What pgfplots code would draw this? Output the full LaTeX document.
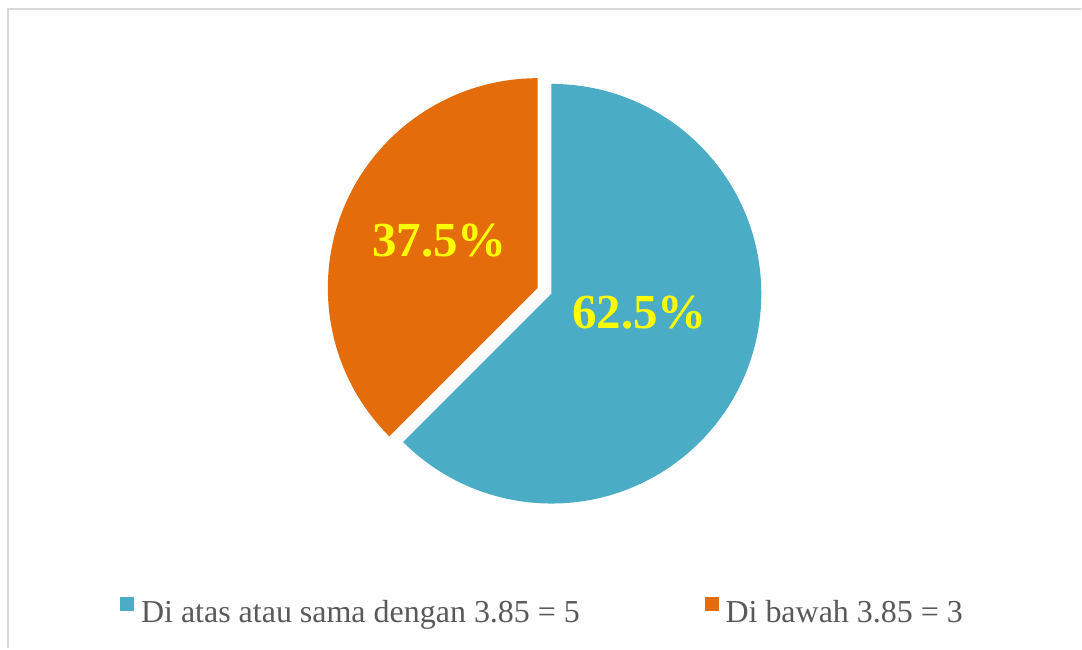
\documentclass[border=0pt]{standalone}
\usepackage{pgfplots}
\pgfplotsset{compat=1.18}
\usepackage{pgfplotstable}
\usepackage{fontspec}
\setmainfont{Liberation Serif}
\usetikzlibrary{calc}

\definecolor{aqua}{RGB}{75,172,198}
\definecolor{orng}{RGB}{228,108,10}
\definecolor{txtgray}{RGB}{89,89,89}
\definecolor{framegray}{RGB}{217,217,217}
\definecolor{lblyellow}{RGB}{255,255,0}

% pie data: legend text, count
\pgfplotstableread[col sep=comma]{
label,value
Di atas atau sama dengan 3.85 = 5,5
Di bawah 3.85 = 3,3
}\piedata

\begin{document}
\begin{tikzpicture}
\pgfplotstablegetelem{0}{value}\of\piedata \let\va\pgfplotsretval
\pgfplotstablegetelem{1}{value}\of\piedata \let\vb\pgfplotsretval
\pgfplotstablegetelem{0}{label}\of\piedata \let\la\pgfplotsretval
\pgfplotstablegetelem{1}{label}\of\piedata \let\lb\pgfplotsretval
\pgfmathsetmacro\tot{\va+\vb}
\pgfmathsetmacro\angA{360*\va/\tot}
\pgfmathsetmacro\angB{360*\vb/\tot}
\pgfmathsetmacro\pA{100*\va/\tot}
\pgfmathsetmacro\pB{100*\vb/\tot}
\pgfmathsetmacro\endA{90-\angA}
\pgfmathsetmacro\endB{\endA-\angB}
\pgfmathsetmacro\midB{(\endA+\endB)/2}
\begin{axis}[
  width=541pt, height=324.5pt, scale only axis,
  xmin=0, xmax=1082, ymin=0, ymax=649,
  hide axis, clip=false,
  legend columns=2,
  legend style={
    at={(axis cs:120,37.5)}, anchor=west,
    draw=none, fill=none, inner sep=0pt,
    font=\fontsize{16}{19}\selectfont, text=txtgray,
    nodes={inner xsep=1.5pt, inner ysep=0pt},
    /tikz/every odd column/.append style={column sep=2pt},
    /tikz/every even column/.append style={column sep=61pt},
  },
  legend cell align=left,
]
  % page extent and the thin frame (top and left edges visible)
  \path (axis cs:0,0) rectangle (axis cs:1082,649);
  \draw[framegray, line width=1pt] (axis cs:8.5,0) -- (axis cs:8.5,640) -- (axis cs:1082,640);

  % slices
  \coordinate (c) at (axis cs:552,355);
  \fill[aqua] (c) -- ++(90:105pt) arc[start angle=90, end angle=\endA, radius=105pt] -- cycle;
  \coordinate (co) at ($(c)+(\midB:7.5pt)$);
  \fill[orng] (co) -- ++(\endA:105pt) arc[start angle=\endA, end angle=\endB, radius=105pt] -- cycle;

  % percentage labels
  \node[text=lblyellow, font=\bfseries\fontsize{24.5}{28}\selectfont]
    at (axis cs:440,408) {\pgfmathprintnumber[fixed,precision=1,assume math mode=true]{\pB}\%};
  \node[text=lblyellow, font=\bfseries\fontsize{24.5}{28}\selectfont]
    at (axis cs:640,336.5) {\pgfmathprintnumber[fixed,precision=1,assume math mode=true]{\pA}\%};

  \addlegendimage{legend image code/.code={\fill[aqua] (0pt,1.25pt) rectangle (6.5pt,7.75pt);}}
  \addlegendentry{\la}
  \addlegendimage{legend image code/.code={\fill[orng] (0pt,1.25pt) rectangle (6.5pt,7.75pt);}}
  \addlegendentry{\lb}
\end{axis}
\end{tikzpicture}
\end{document}
